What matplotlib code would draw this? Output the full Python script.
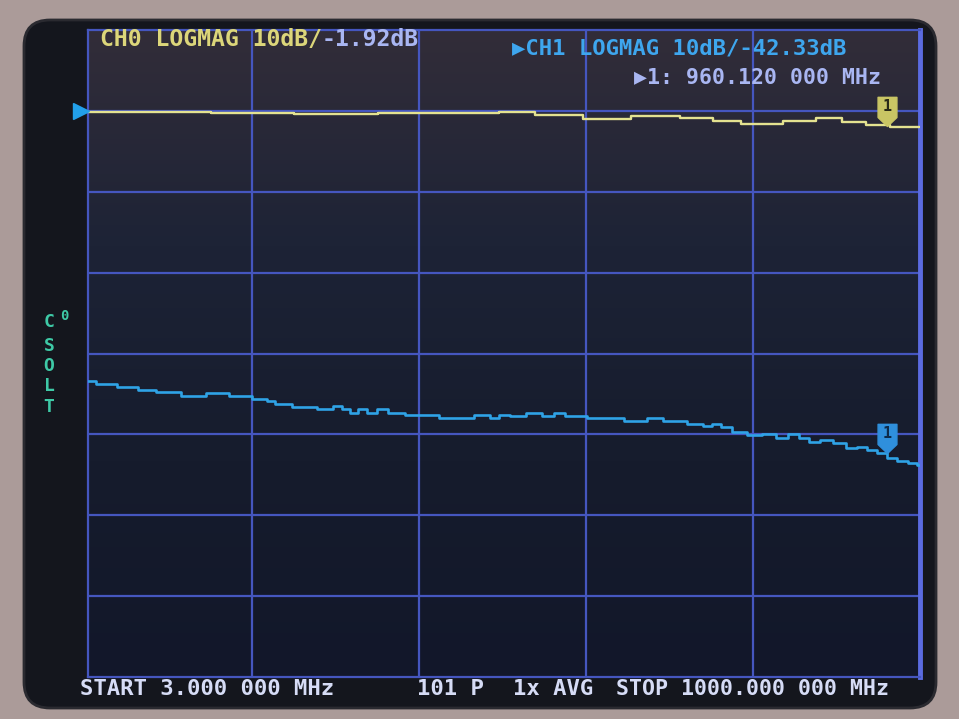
import numpy as np
import matplotlib.pyplot as plt
import matplotlib.transforms as mtransforms
from matplotlib.path import Path
from matplotlib.patches import FancyBboxPatch
from matplotlib.colors import LinearSegmentedColormap

W, H = 959, 719

# sweep / scale settings (NanoVNA screen)
start_mhz = 3.0
stop_mhz = 1000.0
ref_level = 0.0
db_per_div = 10
freq_grid = [200, 400, 600, 800]

# CH0 (yellow)
ch0_freq = [3, 100, 200, 300, 400, 480, 510, 568, 624, 684, 742, 761,
            811, 860, 890, 923, 948, 981, 1000]
ch0_db = [-0.1, -0.2, -0.3, -0.35, -0.3, -0.25, -0.2, -0.55, -0.95, -0.6,
          -0.9, -1.25, -1.65, -1.3, -0.85, -1.35, -1.7, -2.0, -2.05]

# CH1 (cyan)
ch1_freq = [3, 23, 53, 73, 97, 132, 157, 187, 212, 222, 232, 262, 292, 302,
            312, 322, 332, 342, 356, 368, 398, 450, 480, 490, 502, 516, 540,
            554, 569, 579, 623, 667, 678, 706, 735, 745, 756, 766, 784, 802,
            819, 835, 849, 862, 873, 887, 904, 919, 931, 943, 955, 967, 979,
            993, 1000]
ch1_db = [-33.4, -33.8, -34.2, -34.5, -34.8, -35.2, -34.9, -35.3, -35.6,
          -35.9, -36.3, -36.6, -36.9, -36.5, -36.9, -37.3, -36.9, -37.3,
          -36.9, -37.3, -37.6, -38.0, -37.6, -38.0, -37.6, -37.7, -37.3,
          -37.7, -37.3, -37.7, -38.0, -38.4, -38.0, -38.4, -38.7, -39.0,
          -38.7, -39.1, -39.7, -40.1, -40.0, -40.4, -40.0, -40.4, -40.9,
          -40.7, -41.1, -41.7, -41.5, -41.9, -42.3, -42.9, -43.3, -43.6, -43.8]

marker_mhz = 960.12
ch0_marker_db = -1.92
ch1_marker_db = -42.33

# colours
BEZEL = '#ab9b99'
SCREEN = '#14161d'
GRID = '#4556bf'
YELLOW = '#e4e290'
CYAN = '#2fa3e6'
TEXT_W = '#d6dcf6'
TEXT_Y = '#dcd67a'
TEXT_L = '#a9b6f2'
TEAL = '#3ec9a6'

MONO = ['DejaVu Sans Mono', 'DejaVu Sans']


def px(x, y):
    """pixel position (top-left origin) -> figure fraction"""
    return x / W, 1 - y / H


fig = plt.figure(figsize=(W / 100, H / 100), dpi=100, facecolor=BEZEL)

# screen body behind the plot
bg = fig.add_axes([0, 0, 1, 1])
bg.set_xlim(0, W)
bg.set_ylim(H, 0)
bg.axis('off')
bg.add_patch(FancyBboxPatch((42, 38), 876, 652, boxstyle='round,pad=18,rounding_size=26',
                            facecolor=SCREEN, edgecolor='#2a2a30', lw=2))

# plot area
left, top, right, bottom = 88, 30, 920, 677
ax = fig.add_axes([left / W, 1 - bottom / H, (right - left) / W, (bottom - top) / H])
ax.set_xlim(start_mhz, stop_mhz)
ax.set_ylim(ref_level - 7 * db_per_div, ref_level + db_per_div)

# slight reflection gradient on the glass
cmap = LinearSegmentedColormap.from_list('glass', ['#322d39', '#1d2336', '#161c2d', '#12172a'])
ax.imshow(np.linspace(0, 1, 256).reshape(-1, 1), cmap=cmap, aspect='auto',
          extent=[start_mhz, stop_mhz, ref_level - 7 * db_per_div, ref_level + db_per_div],
          zorder=0)

ax.set_xticks(freq_grid)
ax.set_yticks(np.arange(ref_level - 6 * db_per_div, ref_level + 1, db_per_div))
ax.grid(True, color=GRID, lw=1.6)
ax.tick_params(length=0, labelbottom=False, labelleft=False)
for side, sp in ax.spines.items():
    sp.set_color(GRID)
    sp.set_linewidth(1.6)
ax.spines['right'].set_color('#5b6be0')
ax.spines['right'].set_linewidth(3.5)

# traces
ax.plot(ch0_freq, ch0_db, color=YELLOW, lw=1.7, drawstyle='steps-mid', zorder=3)
ax.plot(ch1_freq, ch1_db, color=CYAN, lw=1.9, drawstyle='steps-mid', zorder=3)

# marker 1 (shield shape, tip on the trace)
shield = Path([(0, 0), (-0.42, 0.4), (-0.42, 1.3), (0.42, 1.3), (0.42, 0.4), (0, 0)],
              [Path.MOVETO, Path.LINETO, Path.LINETO, Path.LINETO, Path.LINETO, Path.CLOSEPOLY])
for val, col, txt in [(ch0_marker_db, '#c9c564', '#2a2a18'), (ch1_marker_db, '#2f8fdc', '#0d2a4a')]:
    ax.plot([marker_mhz], [val], marker=shield, ms=42, color=col, mec=col, ls='none', zorder=5)
    ax.annotate('1', (marker_mhz, val), xytext=(0, 14), textcoords='offset points',
                ha='center', va='center', fontsize=11, fontweight='bold',
                color=txt, family=MONO, zorder=6)

# reference level pointer on the left edge
trans = mtransforms.blended_transform_factory(ax.transAxes, ax.transData)
ax.plot([-0.009], [ref_level], marker='>', ms=11, color='#22a0ea', transform=trans,
        clip_on=False, zorder=6)

# header texts
fs = 16.7
fig.text(*px(100, 39), 'CH0 LOGMAG 10dB/', color=TEXT_Y, fontsize=fs, fontweight='bold',
         family=MONO, ha='left', va='center')
fig.text(*px(322, 40), '-1.92dB', color=TEXT_L, fontsize=fs, fontweight='bold',
         family=MONO, ha='left', va='center')
fig.text(*px(512, 49), '\u25b6CH1 LOGMAG 10dB/-42.33dB', color='#3ea6ee', fontsize=16,
         fontweight='bold', family=MONO, ha='left', va='center')
fig.text(*px(634, 77), '\u25b61: 960.120 000 MHz', color=TEXT_L, fontsize=15.5,
         fontweight='bold', family=MONO, ha='left', va='center')

# calibration status on the left
fig.text(*px(49, 322), 'C', color=TEAL, fontsize=13, fontweight='bold', family=MONO,
         ha='center', va='center')
fig.text(*px(64, 316), '0', color=TEAL, fontsize=10, fontweight='bold', family=MONO,
         ha='center', va='center')
for ch, yy in zip('SOLT', [346, 366, 386, 407]):
    fig.text(*px(49, yy), ch, color=TEAL, fontsize=13, fontweight='bold', family=MONO,
             ha='center', va='center')

# bottom status line
fig.text(*px(80, 689), 'START 3.000 000 MHz', color=TEXT_W, fontsize=16, fontweight='bold',
         family=MONO, ha='left', va='center')
fig.text(*px(417, 689), '101 P', color=TEXT_W, fontsize=16, fontweight='bold',
         family=MONO, ha='left', va='center')
fig.text(*px(513, 689), '1x AVG', color=TEXT_W, fontsize=16, fontweight='bold',
         family=MONO, ha='left', va='center')
fig.text(*px(616, 689), 'STOP 1000.000 000 MHz', color=TEXT_W, fontsize=15.5,
         fontweight='bold', family=MONO, ha='left', va='center')

fig.savefig('out.png', dpi=100, facecolor=fig.get_facecolor())
